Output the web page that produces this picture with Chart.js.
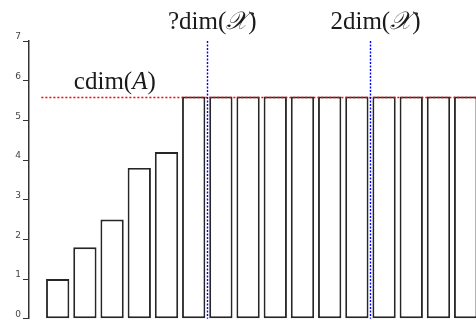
<!DOCTYPE html>
<html><head><meta charset="utf-8">
<script src="https://cdn.jsdelivr.net/npm/chart.js@4/dist/chart.umd.min.js"></script>
<style>html,body{margin:0;padding:0;background:#fff;overflow:hidden}</style>
</head><body>
<canvas id="c" width="476" height="320" style="display:block;width:476px;height:320px"></canvas>
<script>
const categories = [1, 2, 3, 4, 5, 6, 7, 8, 9, 10, 11, 12, 13, 14, 15, 16];
const values = [1, 1.8, 2.5, 3.8, 4.2, 5.6, 5.6, 5.6, 5.6, 5.6, 5.6, 5.6, 5.6, 5.6, 5.6, 5.6];
const yTicks = [0, 1, 2, 3, 4, 5, 6, 7];
const thresholdValue = 5.6;
const thresholdLabel = 'cdim(A)';
const thresholdStart = 0.4;
const thresholdLabelAt = 3.1;
const markerPositions = [6.5, 12.5];
const markerLabels = ['?dim(𝒳)', '2dim(𝒳)'];

const MATH_FONT = '"Liberation Serif", "DejaVu Serif", serif';
const MATH_SIZE = 25;

function isMathVar(ch) {
  return /[A-Z]/.test(ch) || /[\u{1D49C}-\u{1D4CF}]/u.test(ch);
}
function drawMath(ctx, text, cx, baseline) {
  const chars = Array.from(text);
  const parts = [];
  for (const ch of chars) {
    const it = isMathVar(ch);
    if (parts.length && parts[parts.length - 1].it === it) parts[parts.length - 1].t += ch;
    else parts.push({t: ch, it});
  }
  const fontFor = it => (it ? 'italic ' : '') + MATH_SIZE + 'px ' + MATH_FONT;
  let total = 0;
  for (const p of parts) { ctx.font = fontFor(p.it); p.w = ctx.measureText(p.t).width; total += p.w; }
  let xx = cx - total / 2;
  ctx.textBaseline = 'alphabetic';
  ctx.textAlign = 'left';
  for (const p of parts) { ctx.font = fontFor(p.it); ctx.fillText(p.t, xx, baseline); xx += p.w; }
}

const overlay = {
  id: 'overlay',
  afterDatasetsDraw(chart) {
    const {ctx, chartArea, scales: {x, y}} = chart;
    ctx.save();
    const yT = Math.round(y.getPixelForValue(thresholdValue)) + 0.5;
    ctx.lineWidth = 1.3;
    ctx.setLineDash([2, 2]);
    ctx.strokeStyle = '#ff0000';
    ctx.beginPath();
    ctx.moveTo(x.getPixelForValue(thresholdStart), yT);
    ctx.lineTo(chartArea.right, yT);
    ctx.stroke();
    ctx.strokeStyle = '#0000ff';
    ctx.lineWidth = 1.4;
    ctx.setLineDash([2, 1.5]);
    const yTop = y.getPixelForValue(yTicks[yTicks.length - 1]);
    const yBot = y.getPixelForValue(0);
    markerPositions.forEach(p => {
      const px = Math.round(x.getPixelForValue(p)) + 0.5;
      ctx.beginPath(); ctx.moveTo(px, yTop); ctx.lineTo(px, yBot); ctx.stroke();
    });
    ctx.setLineDash([]);
    ctx.fillStyle = '#1a1a1a';
    drawMath(ctx, thresholdLabel, x.getPixelForValue(thresholdLabelAt), yT - 8.5);
    markerPositions.forEach((p, i) => {
      drawMath(ctx, markerLabels[i], x.getPixelForValue(p) + 5, yTop - 12);
    });
    ctx.restore();
  }
};

new Chart(document.getElementById('c'), {
  type: 'bar',
  data: {
    datasets: [{
      data: categories.map((c, i) => ({x: c, y: values[i]})),
      backgroundColor: '#ffffff',
      borderColor: '#262626',
      borderWidth: 1.9,
      borderSkipped: false,
      barPercentage: 1,
      categoryPercentage: 0.856
    }]
  },
  options: {
    responsive: false,
    animation: false,
    devicePixelRatio: 1,
    layout: {padding: {top: 41, bottom: 1.3, left: 0, right: 0}},
    plugins: {legend: {display: false}, tooltip: {enabled: false}},
    scales: {
      x: {type: 'linear', display: false, offset: false, grid: {offset: false}, min: -0.055, max: 16.38},
      y: {
        min: 0, max: 7,
        afterBuildTicks: s => { s.ticks = yTicks.map(v => ({value: v})); },
        afterFit: s => { s.width = 29; s.paddingTop = 0; s.paddingBottom = 0; },
        border: {display: true, color: '#333', width: 1.5},
        grid: {drawOnChartArea: false, drawTicks: true, tickLength: 6, color: '#333', lineWidth: 1},
        ticks: {font: {family: '"DejaVu Sans", sans-serif', size: 9}, color: '#444', padding: 2, labelOffset: -4}
      }
    }
  },
  plugins: [overlay]
});
</script>
</body></html>
